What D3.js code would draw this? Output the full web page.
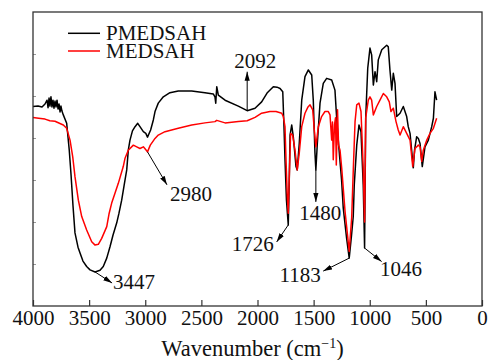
<!DOCTYPE html>
<html>
<head>
<meta charset="utf-8">
<script src="https://cdn.jsdelivr.net/npm/d3@7"></script>
<style>
  body { margin: 0; background: #fff; }
  svg text { font-family: "Liberation Serif", Tinos, "Times New Roman", Times, "Nimbus Roman", "DejaVu Serif", serif; fill: #111; }
</style>
</head>
<body>
<svg id="chart" width="489" height="360"></svg>
<script>
// FTIR spectra: transmittance (arbitrary %) against wavenumber (cm-1)
const pmedsahWn = [4000,3955,3920,3893,3875,3866,3857,3849,3840,3831,3822,3813,3804,3795,3786,3777,3768,3759,3751,3742,3730,3700,3677,3661,3644,3626,3599,3581,3555,3522,3492,3447,3403,3374,3343,3314,3287,3254,3234,3210,3189,3165,3151,3136,3114,3091,3067,3047,3017,2995,2980,2952,2928,2913,2884,2839,2780,2706,2586,2468,2394,2379,2372,2363,2349,2289,2171,2092,2022,1963,1915,1859,1826,1799,1775,1764,1755,1742,1726,1717,1710,1695,1681,1657,1646,1628,1606,1577,1547,1517,1503,1488,1480,1467,1443,1414,1384,1339,1310,1290,1266,1251,1236,1206,1183,1162,1147,1138,1116,1096,1078,1058,1046,1036,1018,998,983,968,953,938,924,893,849,835,820,804,790,775,760,730,701,671,657,641,612,601,582,567,552,532,508,478,448,433,419,404];
const pmedsahT = [47.5,47.6,47.4,48.1,49.0,47.2,49.5,47.6,49.8,47.4,49.0,47.1,48.8,47.4,49.0,46.9,48.1,46.2,47.6,46.4,45.5,43.5,37.1,31.2,24.0,17.4,14.0,12.6,10.7,9.4,8.6,8.1,8.5,9.4,11.4,14.1,16.9,19.8,22.1,25.2,28.6,32.4,37.1,39.5,41.7,42.7,43.5,42.7,41.5,41.1,40.2,41.9,44.3,46.3,48.3,49.8,50.8,51.2,51.2,50.8,50.5,49.8,48.3,52.2,50.2,49.0,47.6,46.5,47.1,48.6,50.7,52.2,52.1,51.8,51.0,42.7,34.8,25.2,19.3,30.0,40.7,43.1,40.3,33.2,32.4,38.7,49.0,54.6,56.2,55.0,49.0,36.4,32.4,38.7,48.3,53.0,54.2,53.8,51.4,42.7,34.8,30.0,23.3,16.1,11.4,16.9,21.3,28.8,38.3,43.1,41.5,28.8,13.8,44.8,56.6,61.4,59.8,52.6,55.8,53.4,58.6,61.0,62.1,61.7,56.2,51.4,55.4,53.0,45.1,45.9,47.5,45.1,42.7,41.1,32.9,37.1,40.3,39.9,38.7,33.2,37.9,39.5,42.7,44.7,51.0,49.0];

const medsahWn = [4000,3950,3893,3850,3804,3730,3700,3670,3646,3626,3596,3566,3522,3477,3447,3418,3388,3343,3323,3299,3269,3240,3196,3180,3151,3106,3076,3047,3017,3000,2980,2955,2913,2884,2824,2706,2586,2468,2379,2363,2289,2171,2092,2022,1963,1889,1835,1784,1770,1755,1746,1735,1726,1715,1705,1687,1666,1646,1628,1606,1577,1550,1532,1508,1494,1480,1458,1429,1399,1369,1354,1339,1332,1325,1314,1305,1298,1287,1278,1265,1250,1220,1183,1161,1146,1131,1116,1096,1078,1058,1046,1036,1013,998,983,968,938,909,879,849,826,811,790,766,746,730,701,671,641,617,597,567,552,537,523,492,463,433,404];
const medsahT = [44.9,44.7,44.5,44.1,44.0,43.1,42.3,39.5,35.5,30.8,25.2,21.3,18.1,15.3,14.5,14.7,16.1,18.9,21.9,24.5,26.9,29.2,33.2,35.2,37.1,38.3,37.9,37.5,37.9,37.4,36.7,38.3,39.9,40.7,41.5,42.3,43.1,43.6,43.9,44.2,43.6,43.9,44.1,44.9,45.9,46.3,46.3,45.9,45.1,42.7,34.8,26.4,22.1,32.4,41.1,40.7,37.1,32.4,36.4,42.7,45.9,47.4,47.9,46.7,41.9,37.9,42.7,45.1,46.3,46.3,45.5,39.5,43.8,34.8,43.1,44.8,33.6,46.7,38.3,37.1,32.9,22.5,13.0,21.0,32.9,43.9,47.9,48.3,46.3,32.9,20.0,44.8,49.0,49.8,49.0,45.5,47.5,49.0,50.6,49.8,48.6,46.3,47.1,43.9,41.9,40.7,42.7,41.1,39.5,33.2,37.5,38.3,37.9,34.4,37.1,39.5,41.1,42.3,44.7];

const seriesNames = ["PMEDSAH", "MEDSAH"];
const xTicks = [4000, 3500, 3000, 2500, 2000, 1500, 1000, 500, 0];
const yTicks = [10, 20, 30, 40, 50, 60];

// band assignments called out on the spectra
const peakWn = [3447, 2980, 2092, 1726, 1480, 1183, 1046];
const peakSeries = ["PMEDSAH", "MEDSAH", "PMEDSAH", "PMEDSAH", "PMEDSAH", "PMEDSAH", "PMEDSAH"];

// ---------- layout ----------
const plot = { left: 33, right: 482, top: 12, bottom: 306 };
const colors = { PMEDSAH: "#000000", MEDSAH: "#ff0000" };
const serif = '"Liberation Serif", Tinos, "Times New Roman", Times, "Nimbus Roman", "DejaVu Serif", serif';

// arrow vector (dx, dy) from the band and label offset (lx, ly) from the arrow tip, px
const callout = {
  3447: { dx: 17, dy: 11, lx: 22, ly: 6 },
  2980: { dx: 19.5, dy: 33, lx: 24, ly: 16 },
  2092: { dx: 0, dy: -39, lx: 8, ly: -4 },
  1726: { dx: -11.6, dy: 17, lx: -24, ly: 9 },
  1480: { dx: 0, dy: 32, lx: 4.5, ly: 18 },
  1183: { dx: -26, dy: 13, lx: -23, ly: 10.7 },
  1046: { dx: 17, dy: 13.5, lx: 19.5, ly: 14.5 }
};

const svg = d3.select("#chart");

const x = d3.scaleLinear().domain([4000, 0]).range([plot.left, plot.right]);
const y = d3.scaleLinear().domain([0, 70]).range([plot.bottom, plot.top]);

const series = {
  PMEDSAH: pmedsahWn.map((w, i) => ({ w, t: pmedsahT[i] })),
  MEDSAH: medsahWn.map((w, i) => ({ w, t: medsahT[i] }))
};

// arrowhead marker
svg.append("defs").append("marker")
  .attr("id", "arrow")
  .attr("viewBox", "0 -3 9 6")
  .attr("refX", 9).attr("refY", 0)
  .attr("markerUnits", "userSpaceOnUse")
  .attr("markerWidth", 9).attr("markerHeight", 6)
  .attr("orient", "auto")
  .append("path").attr("d", "M0,-2.6L9,0L0,2.6Z").attr("fill", "#000");

// spectra
const line = d3.line().x(d => x(d.w)).y(d => y(d.t));
["PMEDSAH", "MEDSAH"].forEach(name => {
  svg.append("path")
    .datum(series[name])
    .attr("fill", "none")
    .attr("stroke", colors[name])
    .attr("stroke-width", 1.5)
    .attr("stroke-linejoin", "round")
    .attr("d", line);
});

// axes (ticks point into the plot)
const xAxis = svg.append("g")
  .attr("transform", `translate(0,${plot.bottom})`)
  .call(d3.axisBottom(x).tickValues(xTicks).tickSizeInner(-6).tickSizeOuter(0)
    .tickPadding(4).tickFormat(d3.format("d")));
xAxis.select(".domain").remove();
xAxis.selectAll(".tick line").attr("stroke", "#333").attr("stroke-width", 1.2);
xAxis.selectAll(".tick text")
  .attr("font-family", serif)
  .attr("font-size", 21).attr("fill", "#111");

const yAxis = svg.append("g")
  .attr("transform", `translate(${plot.left},0)`)
  .call(d3.axisLeft(y).tickValues(yTicks).tickSize(-3).tickFormat(""));
yAxis.select(".domain").remove();
yAxis.selectAll(".tick line").attr("stroke", "#999").attr("stroke-width", 1);

// frame
svg.append("rect")
  .attr("x", plot.left).attr("y", plot.top)
  .attr("width", plot.right - plot.left).attr("height", plot.bottom - plot.top)
  .attr("fill", "none").attr("stroke", "#333").attr("stroke-width", 1.3);

// band callouts
function valueAt(name, w) {
  const pts = series[name];
  for (let i = 0; i < pts.length - 1; i++) {
    const a = pts[i], b = pts[i + 1];
    if ((a.w - w) * (b.w - w) <= 0) {
      const f = a.w === b.w ? 0 : (w - a.w) / (b.w - a.w);
      return a.t + f * (b.t - a.t);
    }
  }
  return pts[pts.length - 1].t;
}

peakWn.forEach((w, i) => {
  const c = callout[w];
  const sx = x(w), sy = y(valueAt(peakSeries[i], w));
  const ex = sx + c.dx, ey = sy + c.dy;
  svg.append("line")
    .attr("x1", sx).attr("y1", sy).attr("x2", ex).attr("y2", ey)
    .attr("stroke", "#000").attr("stroke-width", 1)
    .attr("marker-end", "url(#arrow)");
  svg.append("text")
    .attr("x", ex + c.lx).attr("y", ey + c.ly)
    .attr("text-anchor", "middle")
    .attr("font-family", serif)
    .attr("font-size", 21)
    .text(w);
});

// legend
const legend = svg.append("g");
seriesNames.forEach((name, i) => {
  const ly = 33.3 + i * 17.7;
  legend.append("line")
    .attr("x1", 68).attr("x2", 100).attr("y1", ly).attr("y2", ly)
    .attr("stroke", colors[name]).attr("stroke-width", 1.5);
  legend.append("text")
    .attr("x", 106).attr("y", ly + 6.8)
    .attr("font-family", serif)
    .attr("font-size", 21)
    .text(name);
});

// axis title
const title = svg.append("text")
  .attr("x", 252.5).attr("y", 356)
  .attr("text-anchor", "middle")
  .attr("font-family", serif)
  .attr("font-size", 22.5);
title.append("tspan").text("Wavenumber (cm");
title.append("tspan").attr("dy", -8).attr("font-size", 14).text("\u22121");
title.append("tspan").attr("dy", 8).text(")");
</script>
</body>
</html>
